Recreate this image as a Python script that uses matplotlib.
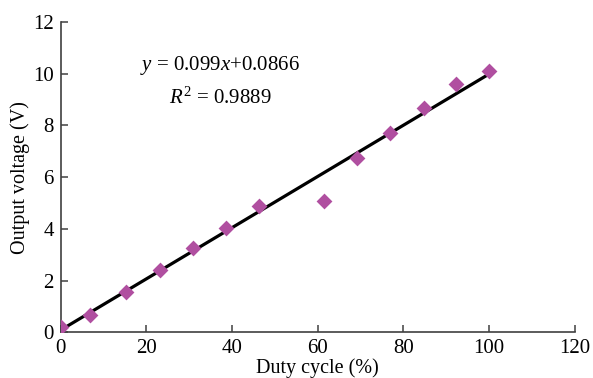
import matplotlib
matplotlib.use("Agg")
import matplotlib.pyplot as plt
import numpy as np

# measured data
duty = [0, 6.9, 15.3, 23.1, 30.8, 38.5, 46.2, 61.5, 69.2, 76.9, 84.7, 92.3, 100]
voltage = [0.2, 0.68, 1.56, 2.4, 3.26, 4.03, 4.88, 5.09, 6.73, 7.72, 8.66, 9.6, 10.12]

# linear fit reported on the chart
slope = 0.099
intercept = 0.0866
fit_x = [0, 100]

plt.rcParams["font.family"] = ["Liberation Serif", "DejaVu Serif"]
plt.rcParams["mathtext.fontset"] = "custom"
plt.rcParams["mathtext.it"] = "Liberation Serif:italic"
plt.rcParams["mathtext.rm"] = "Liberation Serif"

fig = plt.figure(figsize=(5.93, 3.78), dpi=100)
ax = fig.add_axes([0.1024, 0.1209, 0.8668, 0.821])

ax.plot(fit_x, [slope * x + intercept for x in fit_x], color="black", lw=2.3, zorder=2)
ax.scatter(duty, voltage, marker="D", s=65, color="#b04fa0", zorder=3, linewidths=0)

ax.set_xlim(0, 120)
ax.set_ylim(0, 12)
ax.set_xticks(np.arange(0, 121, 20))
ax.set_yticks(np.arange(0, 13, 2))

for side in ["top", "right"]:
    ax.spines[side].set_visible(False)
for side in ["left", "bottom"]:
    ax.spines[side].set_color("#404040")
    ax.spines[side].set_linewidth(1.2)

ax.tick_params(direction="in", length=5, width=1.1, color="#404040",
               labelsize=15, pad=5)
ax.set_xlabel("Duty cycle (%)", fontsize=14.5, labelpad=0)
ax.set_ylabel("Output voltage (V)", fontsize=14.5, labelpad=2)

ax.text(0.31, 0.86, r"$y$ = 0.099$x$+0.0866", transform=ax.transAxes,
        ha="center", va="center", fontsize=15)
ax.text(0.31, 0.755, r"$R^2$ = 0.9889", transform=ax.transAxes,
        ha="center", va="center", fontsize=15)

fig.savefig("out.png", dpi=100)
